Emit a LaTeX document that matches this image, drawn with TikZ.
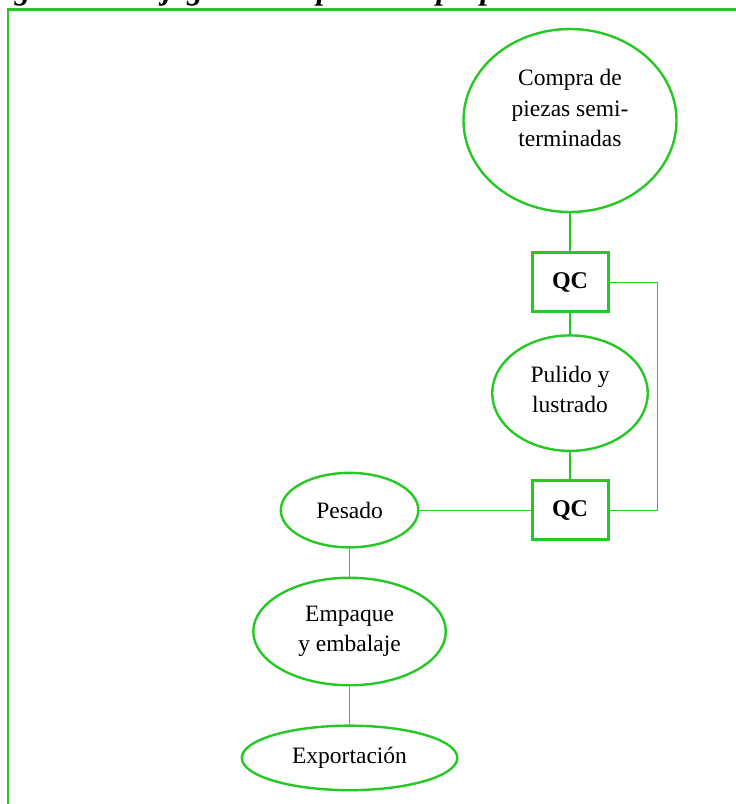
\documentclass[tikz,border=0pt]{standalone}
\usepackage{fontspec}
\setmainfont{Liberation Serif}
\usepackage{tikz}
\usetikzlibrary{shapes.geometric,positioning}
\definecolor{verde}{RGB}{38,200,38}

\begin{document}
\begin{tikzpicture}[
  x=1pt,y=-1pt,
  proc/.style={ellipse,draw=verde,line width=2.4pt,align=center,inner sep=0pt,font=\fontsize{23.5}{30.5}\selectfont},
  qc/.style={rectangle,draw=verde,line width=3pt,minimum width=76pt,minimum height=59pt,font=\fontsize{24}{30}\selectfont\bfseries},
  lnk/.style={draw=verde,line width=1.2pt}
]
\useasboundingbox (0,0) rectangle (736,804);
\clip (0,0) rectangle (736,804);
\node[anchor=base west,inner sep=0pt,font=\fontsize{31.5}{36}\selectfont\bfseries\itshape] (titulo) at (-15,-0.5) {Figura 7.\ Flujograma de procesos propuesto de este caso};
\draw[verde,line width=2.6pt] (8,830) -- (8,9.5) -- (760,9.5);
\node[proc,minimum width=213pt,minimum height=183pt,text depth=25pt] (compra) at (570,120.5) {Compra de\\piezas semi-\\terminadas};
\node[qc,below=38pt of compra] (qc1) {QC};
\node[proc,minimum width=155.5pt,minimum height=115.5pt,text depth=8pt,below=21pt of qc1] (pulido) {Pulido y\\lustrado};
\node[qc,below=27pt of pulido] (qc2) {QC};
\node[proc,minimum width=137.5pt,minimum height=74.5pt,left=111pt of qc2] (pesado) {Pesado};
\node[proc,minimum width=192.5pt,minimum height=107.5pt,below=28pt of pesado] (empaque) {Empaque\\y embalaje};
\node[proc,minimum width=215.5pt,minimum height=64.5pt,below=38pt of empaque] (export) {Exportación};
\draw[lnk] (compra) -- (qc1);
\draw[lnk] (qc1) -- (pulido);
\draw[lnk] (pulido) -- (qc2);
\draw[lnk] (qc1.east) -- ++(48,0) |- (qc2.east);
\draw[lnk] (qc2) -- (pesado);
\draw[lnk] (pesado) -- (empaque);
\draw[lnk] (empaque) -- (export);
\end{tikzpicture}
\end{document}
